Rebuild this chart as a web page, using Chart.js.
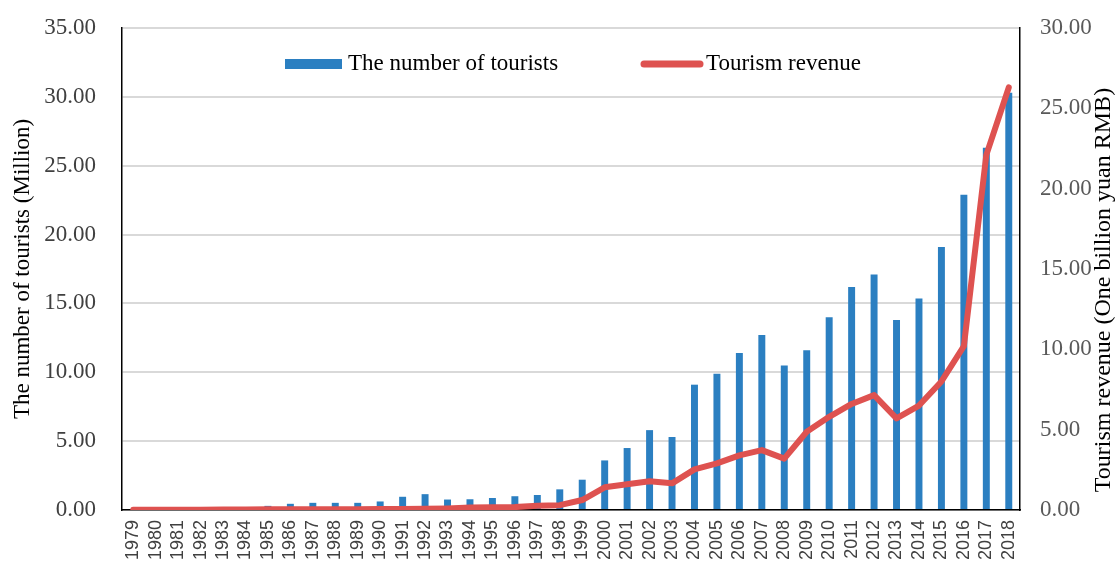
<!DOCTYPE html>
<html>
<head>
<meta charset="utf-8">
<script src="https://cdn.jsdelivr.net/npm/chart.js@4.4.1/dist/chart.umd.min.js"></script>
<style>
  html, body { margin: 0; padding: 0; background: #fff; }
  #wrap { width: 1117px; height: 561px; }
</style>
</head>
<body>
<div id="wrap"><canvas id="tourChart" width="1117" height="561"></canvas></div>
<script>
const years = [
  "1979", "1980", "1981", "1982", "1983", "1984", "1985", "1986", "1987", "1988",
  "1989", "1990", "1991", "1992", "1993", "1994", "1995", "1996", "1997", "1998",
  "1999", "2000", "2001", "2002", "2003", "2004", "2005", "2006", "2007", "2008",
  "2009", "2010", "2011", "2012", "2013", "2014", "2015", "2016", "2017", "2018"
];

// million tourists (left axis)
const tourists = [
  0, 0, 0, 0, 0, 0, 0.3, 0.45, 0.52, 0.52,
  0.52, 0.62, 0.96, 1.15, 0.76, 0.78, 0.87, 1.0, 1.09, 1.5,
  2.2, 3.6, 4.5, 5.8, 5.3, 9.1, 9.9, 11.4, 12.7, 10.5,
  11.6, 14.0, 16.2, 17.1, 13.8, 15.35, 19.1, 22.9, 26.3, 30.3
];

// billion yuan RMB (right axis)
const revenue = [
  0.02, 0.02, 0.02, 0.02, 0.03, 0.03, 0.04, 0.05, 0.05, 0.05,
  0.05, 0.06, 0.07, 0.08, 0.1, 0.15, 0.17, 0.18, 0.26, 0.3,
  0.62, 1.41, 1.6, 1.79, 1.66, 2.53, 2.9, 3.4, 3.73, 3.2,
  4.87, 5.8, 6.6, 7.15, 5.7, 6.5, 8.0, 10.2, 22.1, 26.3
];

const seriesNames = ["The number of tourists", "Tourism revenue"];
const rightTitle = "Tourism revenue (One billion yuan RMB)";

const BLUE = "#2b7fc1";
const RED = "#de5250";
const SERIF = "'Liberation Serif', 'Times New Roman', serif";

/* legend inside the plot + right axis title reading bottom-to-top */
const extras = {
  id: "extras",
  afterDraw(chart) {
    const ctx = chart.ctx;
    const y = 64;
    ctx.save();
    ctx.font = "23px " + SERIF;
    ctx.textBaseline = "middle";

    ctx.fillStyle = BLUE;
    ctx.fillRect(285, y - 5, 57, 10);
    ctx.fillStyle = "#000";
    ctx.fillText(seriesNames[0], 348, y);

    ctx.strokeStyle = RED;
    ctx.lineWidth = 7;
    ctx.lineCap = "round";
    ctx.beginPath();
    ctx.moveTo(644, y);
    ctx.lineTo(700, y);
    ctx.stroke();
    ctx.fillText(seriesNames[1], 706, y);

    ctx.font = "24px " + SERIF;
    ctx.translate(1104, 290);
    ctx.rotate(-Math.PI / 2);
    ctx.textAlign = "center";
    ctx.fillText(rightTitle, 0, 0);
    ctx.restore();
  }
};

// keep the plot box where the original has it
function noPad(scale) {
  scale.paddingTop = 0;
  scale.paddingBottom = 0;
  scale.paddingLeft = 0;
  scale.paddingRight = 0;
}

new Chart(document.getElementById("tourChart"), {
  type: "bar",
  data: {
    labels: years,
    datasets: [
      {
        type: "bar",
        label: seriesNames[0],
        data: tourists,
        backgroundColor: BLUE,
        yAxisID: "y",
        barPercentage: 0.31,
        categoryPercentage: 1,
        order: 2
      },
      {
        type: "line",
        label: seriesNames[1],
        data: revenue,
        borderColor: RED,
        borderWidth: 6,
        pointRadius: 0,
        tension: 0,
        borderCapStyle: "round",
        borderJoinStyle: "round",
        yAxisID: "y1",
        order: 1
      }
    ]
  },
  options: {
    responsive: false,
    animation: false,
    layout: { padding: { top: 28, left: 0, right: 0, bottom: 0 } },
    plugins: {
      legend: { display: false },
      tooltip: { enabled: false }
    },
    scales: {
      x: {
        grid: { display: false, drawTicks: false },
        border: { color: "#000", width: 1.5 },
        ticks: {
          minRotation: 90,
          maxRotation: 90,
          autoSkip: false,
          padding: 10,
          color: "#404040",
          font: { family: "'Liberation Sans', Arial, sans-serif", size: 18 }
        },
        afterFit(scale) { scale.height = 51; noPad(scale); }
      },
      y: {
        position: "left",
        min: 0,
        max: 35,
        grid: { color: "#d9d9d9", lineWidth: 2, drawTicks: false },
        border: { color: "#000", width: 1.5 },
        ticks: {
          stepSize: 5,
          padding: 26,
          color: "#404040",
          font: { family: SERIF, size: 23 },
          callback: (v) => v.toFixed(2)
        },
        title: {
          display: true,
          text: "The number of tourists (Million)",
          color: "#000",
          padding: { top: 9, bottom: 0 },
          font: { family: SERIF, size: 23 }
        },
        afterFit(scale) { scale.width = 122; noPad(scale); }
      },
      y1: {
        position: "right",
        min: 0,
        max: 30,
        grid: { drawOnChartArea: false, drawTicks: false },
        border: { color: "#000", width: 1.5 },
        ticks: {
          stepSize: 5,
          padding: 20,
          color: "#595959",
          font: { family: SERIF, size: 23 },
          callback: (v) => v.toFixed(2)
        },
        afterFit(scale) { scale.width = 97; noPad(scale); }
      }
    }
  },
  plugins: [extras]
});
</script>
</body>
</html>
